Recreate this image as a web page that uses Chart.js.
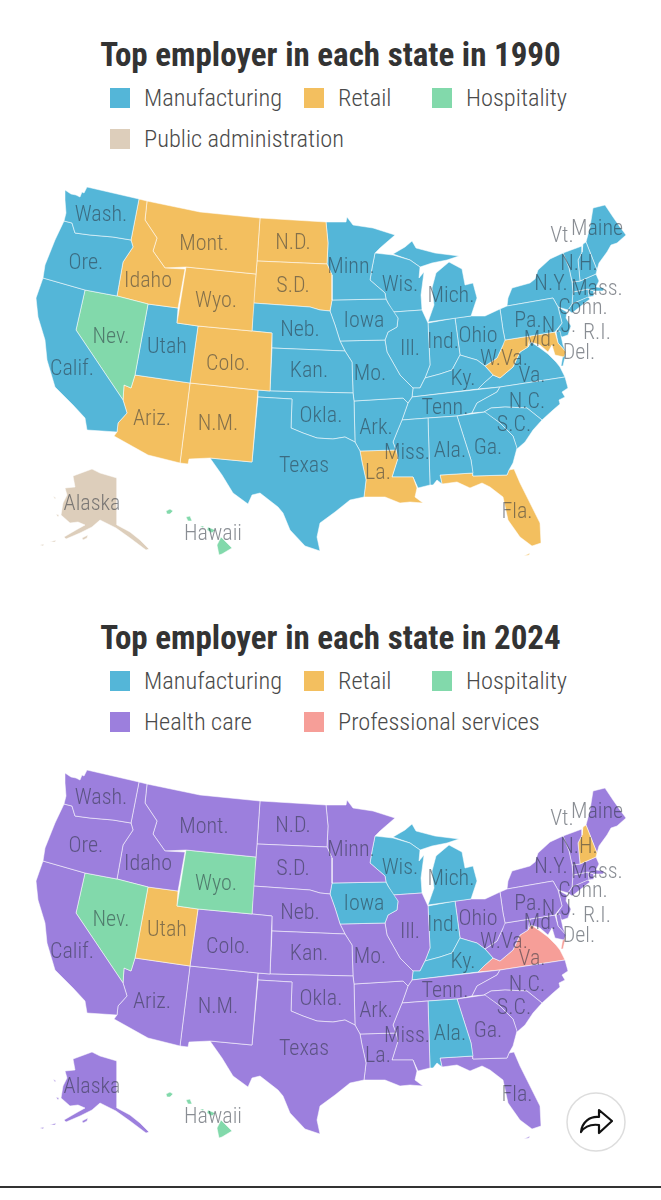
<!DOCTYPE html>
<html><head><meta charset="utf-8">
<style>
html,body{margin:0;padding:0;background:#fff;width:661px;height:1200px;overflow:hidden;position:relative;font-family:"Roboto Condensed","Liberation Sans Narrow",Roboto,sans-serif}
.title{position:absolute;left:0;width:661px;text-align:center;font-weight:700;font-size:33px;line-height:34px;color:#333}
.sw{position:absolute;width:20px;height:20px}
.lb{position:absolute;font-size:24.4px;line-height:26px;color:#4a4a4a;white-space:nowrap;font-weight:300}
canvas{position:absolute;left:0}
#rule{position:absolute;left:0;top:1186px;width:661px;height:2px;background:#333}
</style>
<script src="https://cdn.jsdelivr.net/npm/chart.js@4/dist/chart.umd.js"></script>
</head><body>
<div id="rule"></div>
<svg style="position:absolute;left:566px;top:1092px" width="60" height="60" viewBox="0 0 60 60">
<circle cx="30" cy="30" r="29" fill="#fff" stroke="#ddd" stroke-width="1.5"/>
<path d="M15 40 C16 30 24 24 33 25 L33 18 L46 29 L33 41 L33 33 C25 32 19 34 15 40 Z" fill="#fff" stroke="#111" stroke-width="2.2" stroke-linejoin="round"/>
</svg>
<script>
// Employment categories
const categoryNames = ["Manufacturing","Retail","Hospitality","Public administration","Health care","Professional services"];
const categoryColors = ["#54B6D8","#F3BF5F","#82D9AB","#DDCEBB","#9C7FDD","#F69E98"];
const legend1990 = [0,1,2,3];
const legend2024 = [0,1,2,4,5];

// Top employer for each state
const stateCodes  = ["WA","OR","CA","NV","ID","MT","WY","UT","CO","AZ","NM","TX","OK","KS","NE","SD","ND","MN","IA","MO","AR","LA","MS","AL","GA","FL","SC","NC","TN","KY","IL","WI","MI","IN","OH","PA","WV","MD","DE","VA","NJ","NY","VT","NH","MA","CT","RI","ME","AK","HI"];
const employer1990 = [0,0,0,2,1,1,1,0,1,1,1,0,0,0,0,1,1,0,0,0,0,1,0,0,0,1,0,0,0,0,0,0,0,0,0,0,1,1,0,0,0,0,0,0,0,0,0,0,3,2];
const employer2024 = [4,4,4,2,4,4,2,1,4,4,4,4,4,4,4,4,4,4,0,4,4,4,4,0,4,4,4,4,4,0,4,0,0,0,4,4,4,4,4,5,4,4,4,1,4,4,4,4,4,2];

// State labels
const stateLabels = ["Wash.","Ore.","Calif.","Nev.","Idaho","Mont.","Wyo.","Utah","Colo.","Ariz.","N.M.","Texas","Okla.","Kan.","Neb.","S.D.","N.D.","Minn.","Iowa","Mo.","Ark.","La.","Miss.","Ala.","Ga.","Fla.","S.C.","N.C.","Tenn.","Ky.","Ill.","Wis.","Mich.","Ind.","Ohio","Pa.","W.Va.","Md.","Del.","Va.","N.J.","N.Y.","Vt.","N.H.","Mass.","Conn.","R.I.","Maine","Alaska","Hawaii"];
const labelX = [101,86,72,111,148,204,216,167,228,152,218,304,321,309,300,293,293,351,364,370,376,378,407,450,488,517,514,527,445,463,410,400,451,443,478,528,504,540,579,532,559,551,562,579,597,583,597,597,92,213];
const labelY = [214,262,368,336,280,243,300,346,363,418,423,465,415,370,329,285,242,266,320,373,427,472,452,450,447,511,424,401,407,378,348,284,295,341,335,320,358,339,352,375,325,283,235,263,288,307,332,228,503,533];

// State outlines, in map units
const WA=[[[65,190],[71,194],[76,195],[80,197],[82,192],[84,193],[87,187],[139,199],[131,240],[113,237],[90,235],[75,233],[72,223],[64,221],[66,213],[65,200]]];
const OR=[[[64,221],[72,223],[75,233],[90,235],[113,237],[131,240],[133,247],[123,262],[117,296],[85,290],[43,278],[45,265],[55,240]]];
const CA=[[[43,278],[85,290],[76,330],[123,400],[127,413],[118,423],[117,432],[87,430],[85,418],[73,405],[55,387],[47,360],[45,340],[38,317],[36,298]]];
const NV=[[[85,290],[117,296],[148,304],[135,375],[131,388],[124,385],[123,400],[76,330]]];
const ID=[[[139,199],[147,201],[145,220],[157,238],[153,251],[165,268],[185,269],[178,308],[148,304],[117,296],[123,262],[133,247],[131,240]]];
const MT=[[[147,201],[200,212],[260,218],[257,261],[256,274],[186,267],[165,268],[153,251],[157,238],[145,220]]];
const WY=[[[186,267],[256,274],[252,331],[198,326],[177,323]]];
const UT=[[[148,304],[178,308],[177,323],[198,326],[190,383],[135,375]]];
const CO=[[[198,326],[252,331],[272,333],[270,391],[258,390],[190,383]]];
const AZ=[[[135,375],[190,383],[180,463],[148,455],[114,436],[117,432],[118,423],[127,413],[123,400],[124,385],[131,388]]];
const NM=[[[190,383],[258,390],[252,462],[210,458],[189,459],[188,464],[180,463]]];
const TX=[[[258,397],[292,399],[291,428],[303,433],[317,438],[333,439],[345,437],[355,442],[360,451],[362,462],[366,480],[364,497],[350,500],[335,512],[320,523],[317,537],[320,551],[305,546],[290,530],[283,513],[278,507],[260,493],[252,495],[248,504],[233,493],[222,475],[210,458],[252,462]]];
const OK=[[[258,390],[270,391],[353,393],[354,401],[355,442],[345,437],[333,439],[317,438],[303,433],[291,428],[292,399],[258,397]]];
const KS=[[[272,348],[345,351],[352,362],[353,393],[270,391]]];
const NE=[[[253,303],[310,307],[320,310],[330,311],[335,325],[340,341],[345,351],[272,348],[272,333],[252,331]]];
const SD=[[[257,261],[327,264],[332,275],[332,300],[330,311],[320,310],[310,307],[253,303],[256,274]]];
const ND=[[[260,218],[326,222],[328,243],[327,264],[257,261]]];
const MN=[[[326,222],[346,222],[347,217],[353,225],[373,228],[395,235],[380,248],[375,253],[372,268],[370,280],[385,293],[386,299],[332,300],[332,275],[327,264],[328,243]]];
const IA=[[[332,300],[386,299],[388,303],[398,318],[397,327],[388,332],[385,340],[340,341],[335,325],[330,311]]];
const MO=[[[340,341],[385,340],[387,352],[400,375],[413,388],[412,397],[408,403],[403,398],[354,401],[353,393],[352,362],[345,351]]];
const AR=[[[354,401],[403,398],[408,403],[402,420],[397,432],[393,442],[396,450],[360,451],[355,442]]];
const LA=[[[360,451],[396,450],[398,458],[392,477],[413,477],[417,488],[415,497],[423,503],[410,502],[400,503],[385,497],[364,497],[366,480],[362,462]]];
const MS=[[[402,420],[428,418],[430,485],[418,488],[413,477],[392,477],[398,458],[396,450],[393,442],[397,432]]];
const AL=[[[428,418],[457,416],[471,460],[473,473],[440,475],[442,484],[437,480],[433,485],[430,485]]];
const GA=[[[457,416],[485,412],[500,423],[513,436],[517,448],[513,463],[509,470],[507,475],[473,476],[471,460]]];
const FL=[[[440,475],[473,473],[473,476],[507,475],[509,470],[514,469],[520,483],[532,507],[540,523],[541,543],[532,546],[520,537],[508,520],[503,497],[490,487],[482,483],[470,488],[457,482],[442,484]],[[524,556],[530,553],[529,555]]];
const SC=[[[484,412],[491,408],[505,407],[527,408],[542,420],[533,430],[525,442],[517,449],[513,436],[500,423]]];
const NC=[[[500,387],[565,377],[568,388],[562,392],[565,397],[559,400],[560,404],[553,410],[542,420],[527,408],[505,407],[491,408],[484,412],[472,413],[477,403],[497,392]]];
const TN=[[[412,397],[500,387],[497,392],[477,403],[472,413],[457,416],[428,418],[402,420],[408,403]]];
const KY=[[[413,388],[420,388],[425,378],[440,374],[452,370],[460,355],[470,358],[477,360],[485,366],[493,375],[485,382],[478,389],[412,397]]];
const IL=[[[393,312],[422,310],[428,323],[430,365],[425,378],[420,388],[413,388],[400,375],[387,352],[385,340],[388,332],[397,327],[398,318]]];
const WI=[[[375,253],[393,255],[410,260],[420,267],[419,278],[424,272],[421,295],[422,310],[393,312],[388,303],[386,299],[385,293],[370,280],[372,268]]];
const MI=[[[393,254],[405,247],[412,241],[416,248],[435,253],[459,256],[447,260],[432,263],[420,267],[410,260]],[[449,262],[462,269],[465,285],[473,283],[477,298],[471,316],[428,322],[434,305],[432,288],[436,273]]];
const IN=[[[428,323],[455,318],[460,355],[452,370],[440,374],[425,378],[430,365]]];
const OH=[[[455,318],[471,316],[485,316],[500,309],[503,330],[505,340],[503,345],[497,358],[485,366],[477,360],[470,358],[460,355]]];
const PA=[[[500,309],[507,306],[553,298],[558,307],[562,323],[555,332],[530,336],[505,340],[503,330]]];
const WV=[[[503,330],[505,340],[530,336],[528,347],[520,352],[513,367],[500,378],[493,375],[485,366],[497,358],[503,345]]];
const MD=[[[530,336],[555,332],[558,343],[566,352],[564,357],[555,355],[552,345],[548,352],[540,345],[531,342],[528,347]]];
const DE=[[[556,332],[560,331],[563,345],[566,352],[558,343]]];
const VA=[[[528,347],[531,342],[540,348],[548,354],[556,362],[560,367],[565,377],[500,387],[478,389],[485,382],[493,375],[500,378],[513,367],[520,352]],[[563,355],[566,353],[563,366],[561,366]]];
const NJ=[[[558,307],[567,312],[566,318],[571,326],[568,335],[562,337],[556,332],[562,323]]];
const NY=[[[507,306],[508,298],[512,288],[530,283],[535,279],[538,270],[550,259],[563,253],[569,268],[572,282],[573,292],[572,304],[568,310],[558,307],[553,298]],[[568,310],[572,304],[588,297],[590,299],[572,313]]];
const VT=[[[563,253],[582,246],[582,252],[578,260],[580,281],[572,282],[569,268]]];
const NH=[[[583,244],[586,242],[597,270],[596,274],[580,281],[578,260],[582,252]]];
const MA=[[[572,282],[580,281],[596,274],[599,281],[596,287],[604,288],[603,291],[594,291],[588,289],[573,292]]];
const CT=[[[573,292],[588,289],[589,297],[572,304]]];
const RI=[[[588,289],[594,291],[594,296],[589,297]]];
const ME=[[[586,242],[590,227],[593,208],[605,205],[613,217],[620,227],[626,235],[617,243],[611,245],[607,252],[599,263],[597,270]]];
const AK=[[[73,476],[92,469],[100,473],[117,478],[117,525],[130,532],[140,540],[149,549],[146,550],[130,538],[116,528],[100,520],[92,527],[80,533],[66,539],[64,537],[76,530],[85,525],[78,522],[70,523],[61,515],[63,503],[67,495],[65,488],[75,487]],[[82,538],[88,535],[87,538],[83,540]],[[50,542],[56,540],[55,542]],[[40,545],[44,544],[43,546]],[[53,496],[56,498],[55,499]],[[56,514],[59,515],[58,517]]];
const HI=[[[221,537],[232,548],[222,554],[219,555],[217,545]],[[208,527],[215,530],[212,533],[207,530]],[[200,526],[204,526],[203,528]],[[186,517],[190,516],[192,521],[188,521]],[[166,511],[170,509],[173,511],[170,514],[167,514]]];
const outlines=[WA,OR,CA,NV,ID,MT,WY,UT,CO,AZ,NM,TX,OK,KS,NE,SD,ND,MN,IA,MO,AR,LA,MS,AL,GA,FL,SC,NC,TN,KY,IL,WI,MI,IN,OH,PA,WV,MD,DE,VA,NJ,NY,VT,NH,MA,CT,RI,ME,AK,HI];

const labelPlugin = {
  id:'stateNames',
  afterDatasetsDraw(chart){
    const {ctx,scales:{x,y}}=chart;
    ctx.save();
    ctx.font='300 22px "Roboto Condensed","Liberation Sans Narrow","Roboto",sans-serif';
    ctx.fillStyle='rgba(40,48,58,0.55)';
    ctx.textAlign='center';ctx.textBaseline='middle';
    stateLabels.forEach((t,i)=>ctx.fillText(t,x.getPixelForValue(labelX[i]),y.getPixelForValue(labelY[i])+1.5));
    ctx.restore();
  }
};

function drawMap(year,employers,legend,top){
  const t=document.createElement('div');t.className='title';t.textContent='Top employer in each state in '+year;
  t.style.top=(top+38)+'px';document.body.appendChild(t);
  const xs=[110,304,432];
  legend.forEach((c,i)=>{
    const col=i%3,row=Math.floor(i/3),yy=top+88+row*41;
    const s=document.createElement('div');s.className='sw';s.style.left=xs[col]+'px';s.style.top=yy+'px';s.style.background=categoryColors[c];document.body.appendChild(s);
    const l=document.createElement('div');l.className='lb';l.style.left=(xs[col]+34)+'px';l.style.top=(yy-3)+'px';l.textContent=categoryNames[c];document.body.appendChild(l);
  });
  const cv=document.createElement('canvas');cv.width=661;cv.height=385;cv.style.top=(top+180)+'px';document.body.appendChild(cv);
  const datasets=[];
  outlines.forEach((rings,i)=>rings.forEach(r=>{
    datasets.push({label:stateCodes[i],data:r.concat([r[0]]).map(p=>({x:p[0],y:p[1]})),showLine:true,fill:'shape',tension:0,
      backgroundColor:categoryColors[employers[i]],borderColor:'rgba(255,255,255,0.75)',borderWidth:0.7,pointRadius:0,pointHoverRadius:0});
  }));
  new Chart(cv,{type:'scatter',data:{datasets},plugins:[labelPlugin],options:{responsive:false,animation:false,events:[],devicePixelRatio:1,
    layout:{padding:0},plugins:{legend:{display:false},tooltip:{enabled:false},title:{display:false}},
    scales:{x:{type:'linear',display:false,min:0,max:661},y:{type:'linear',display:false,reverse:true,min:180,max:565}}}});
}
drawMap(1990,employer1990,legend1990,0);
drawMap(2024,employer2024,legend2024,582.5);
</script>
</body></html>
